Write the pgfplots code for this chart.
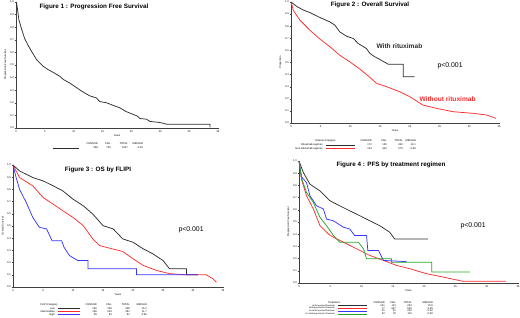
\documentclass[border=0pt]{standalone}
\usepackage{pgfplots}
\pgfplotsset{compat=1.18}
\usepackage{fontspec}
\setmainfont{Liberation Sans}
\definecolor{kmred}{RGB}{255,45,45}
\definecolor{kmblue}{RGB}{55,55,255}
\definecolor{kmgreen}{RGB}{40,165,40}
\definecolor{kmblack}{RGB}{45,45,45}
\newcommand{\tf}{\fontsize{2.6}{3}\selectfont}
\newcommand{\smf}{\fontsize{2.1}{2.5}\selectfont}
\newcommand{\ttl}{\bfseries\fontsize{6.3}{7}\selectfont}
\newcommand{\anf}{\bfseries\fontsize{6.6}{7.5}\selectfont}
\newcommand{\pf}{\fontsize{6.9}{8}\selectfont}
\pgfplotsset{km/.style={
  scale only axis, axis lines=left, axis line style={-, line width=0.5pt, black!75},
  xmin=0,xmax=35,ymin=0,ymax=1, enlargelimits=false, clip=false,
  xtick={0,5,...,35}, ytick={0,0.1,...,1.0},
  minor x tick num=4,
  tick align=outside, major tick length=1.3pt, minor tick length=0.8pt,
  tick style={line width=0.3pt, black!75},
  every tick label/.append style={font=\tf, inner sep=0.8pt},
  yticklabel style={/pgf/number format/.cd, fixed, fixed zerofill, precision=1, assume math mode=true},
  xticklabel style={/pgf/number format/assume math mode=true},
  xlabel={Years}, label style={font=\tf},
  xlabel style={yshift=2pt}, ylabel style={yshift=-1pt},
  every axis plot/.append style={line width=0.75pt, no marks},
}}
\begin{document}
\begin{tikzpicture}[x=1pt,y=1pt]
\useasboundingbox (0,0) rectangle (520,318);
% ---------------- Figure 1
\begin{axis}[km, at={(16pt,190pt)}, anchor=south west, width=202pt, height=126pt,
  minor x tick num=0, ylabel={Progression Free Survival}]
\addplot[kmblack] coordinates {(0,1.0)(0.15,0.98)(0.5,0.86)(1,0.78)(1.5,0.71)(2.1,0.656)(2.8,0.6)(3.6,0.54)(4.7,0.49)(5.5,0.465)(6.5,0.44)(7.6,0.41)(8.2,0.385)(9.3,0.357)(10.5,0.32)(11.6,0.286)(12.8,0.255)(13.95,0.238)(14.5,0.21)(15.7,0.2)(16.8,0.18)(18,0.16)(19.1,0.13)(20.3,0.108)(21,0.095)(21.5,0.075)(22.6,0.07)(23.2,0.052)(24.9,0.044)(26.1,0.03)(33.6,0.03)(33.6,0.005)};
\end{axis}
% ---------------- Figure 2
\begin{axis}[km, at={(291pt,195pt)}, anchor=south west, width=208pt, height=121pt,
  ylabel={Proportion}]
\addplot[kmblack] coordinates {(0,1)(0.95,0.964)(2,0.935)(3.2,0.912)(4.9,0.871)(6.55,0.835)(7.4,0.808)(8.2,0.753)(9.35,0.717)(10.5,0.698)(11.3,0.657)(12.7,0.615)(13.3,0.574)(14.1,0.547)(14.95,0.525)(16.35,0.486)(18.9,0.486)(18.9,0.382)(20.8,0.382)};
\addplot[kmred] coordinates {(0,1)(0.4,0.93)(1.5,0.85)(3.2,0.766)(4.9,0.692)(6.55,0.63)(8.2,0.56)(9.9,0.505)(11.6,0.445)(13.3,0.376)(14.4,0.327)(16.1,0.3)(18.3,0.258)(20,0.217)(22.2,0.148)(24.5,0.121)(27.3,0.093)(30.6,0.08)(32.9,0.066)(34.5,0.038)};
\end{axis}
% ---------------- Figure 3
\begin{axis}[km, at={(13pt,31pt)}, anchor=south west, width=210pt, height=122pt,
  ylabel={Overall Survival}]
\addplot[kmblack] coordinates {(0,1)(1.1,0.951)(3.3,0.897)(5,0.87)(6.7,0.829)(8.3,0.788)(10,0.72)(11.7,0.666)(13.3,0.598)(15,0.503)(16.7,0.476)(18.3,0.394)(20,0.367)(21.7,0.313)(23.3,0.272)(25,0.217)(26.1,0.149)(28.9,0.149)(28.9,0.1)(30.8,0.1)};
\addplot[kmred] coordinates {(0,1)(1.1,0.897)(3.3,0.829)(5,0.734)(6.7,0.679)(8.3,0.625)(10,0.57)(11.7,0.503)(13.3,0.394)(14.4,0.34)(16.1,0.318)(18.3,0.291)(20,0.231)(21.7,0.177)(23.9,0.136)(26.1,0.109)(28.9,0.1)(32.2,0.1)(33.3,0.068)(33.9,0.04)};
\addplot[kmblue] coordinates {(0,1)(0.5,0.9)(1.1,0.8)(2.2,0.693)(3.3,0.57)(4.4,0.489)(5.6,0.476)(6.5,0.38)(8.1,0.38)(8.5,0.326)(9.4,0.258)(10.8,0.217)(12.5,0.217)(12.5,0.149)(20.6,0.149)(20.6,0.1)(30.8,0.1)};
\end{axis}
% ---------------- Figure 4
\begin{axis}[km, at={(299pt,35pt)}, anchor=south west, width=219pt, height=122pt,
  ylabel={Progression Free Survival}]
\addplot[kmblack] coordinates {(0,1)(0.7,0.905)(1.75,0.81)(3.35,0.755)(4.95,0.674)(6.5,0.633)(8.1,0.592)(9.7,0.552)(11.3,0.51)(12.9,0.47)(14.5,0.416)(15.3,0.36)(20.6,0.36)};
\addplot[kmred] coordinates {(0,1)(0.4,0.85)(1.2,0.715)(2.3,0.606)(3.35,0.47)(4.95,0.39)(7.1,0.334)(9.2,0.28)(11.3,0.226)(13.5,0.185)(15.6,0.144)(17.7,0.117)(20.4,0.076)(23,0.049)(26.2,0.014)(33.1,0.014)};
\addplot[kmblue] coordinates {(0,1)(0.4,0.87)(1.2,0.823)(1.75,0.715)(2.8,0.633)(3.9,0.606)(4.4,0.524)(5.5,0.51)(7.1,0.457)(8.1,0.443)(8.9,0.389)(10.8,0.389)(11,0.266)(12.7,0.266)(13.5,0.185)(17.2,0.175)};
\addplot[kmgreen] coordinates {(0,1)(0.4,0.86)(1.2,0.742)(2.3,0.66)(3.35,0.538)(4.4,0.47)(5.5,0.39)(6.5,0.334)(9.5,0.334)(10.3,0.28)(10.8,0.198)(14.8,0.198)(14.8,0.171)(21.2,0.171)(21.2,0.09)(27.3,0.09)};
\end{axis}
% ---------------- titles and annotations
\node[font=\ttl] at (94,311) {Figure 1 : Progression Free Survival};
\node[font=\ttl] at (370,313) {Figure 2 : Overall Survival};
\node[font=\ttl] at (98,148) {Figure 3 : OS by FLIPI};
\node[font=\ttl] at (391,153) {Figure 4 : PFS by treatment regimen};
\node[font=\anf, anchor=west, text=kmblack] at (373,272) {With rituximab};
\node[font=\anf, anchor=west, text=kmred] at (416,219) {Without rituximab};
\node[font=\pf, anchor=west] at (434,252) {p<0.001};
\node[font=\pf, anchor=west] at (175,88) {p<0.001};
\node[font=\pf, anchor=west] at (457,92) {p<0.001};
% ---------------- legend tables
\begin{scope}[every node/.style={font=\tf, inner sep=0pt}]
% Figure 1
\draw[kmblack, line width=0.5pt] (53,170) -- (79,170);
\node[anchor=east] at (98,174) {CENSOR};
\node[anchor=east] at (111,174) {FAIL};
\node[anchor=east] at (128,174) {TOTAL};
\node[anchor=east] at (143,174) {MEDIAN};
\node[anchor=east] at (98,170) {308};
\node[anchor=east] at (111,170) {729};
\node[anchor=east] at (128,170) {1037};
\node[anchor=east] at (143,170) {4.59};
% Figure 2
\node[anchor=east] at (336,177) {Rituxan Category};
\draw[kmblack, line width=0.5pt] (326,173) -- (355,173);
\draw[kmred, line width=0.5pt] (326,169.5) -- (355,169.5);
\node[anchor=east] at (323,173) {Rituximab regimen};
\node[anchor=east] at (323,169.5) {Non-Rituximab regimen};
\node[anchor=east] at (372,177) {CENSOR};
\node[anchor=east] at (387,177) {FAIL};
\node[anchor=east] at (403,177) {TOTAL};
\node[anchor=east] at (416,177) {MEDIAN};
\node[anchor=east] at (372,173) {172};
\node[anchor=east] at (387,173) {130};
\node[anchor=east] at (403,173) {302};
\node[anchor=east] at (416,173) {16.1};
\node[anchor=east] at (372,169.5) {133};
\node[anchor=east] at (387,169.5) {442};
\node[anchor=east] at (403,169.5) {575};
\node[anchor=east] at (416,169.5) {9.99};
% Figure 3
\node[anchor=east] at (58,13) {FLIPI Category};
\draw[kmblack, line width=0.5pt] (58,9.5) -- (80,9.5);
\draw[kmred, line width=0.5pt] (58,6.5) -- (80,6.5);
\draw[kmblue, line width=0.5pt] (58,3.5) -- (80,3.5);
\node[anchor=east] at (55,9.5) {Low};
\node[anchor=east] at (55,6.5) {Intermediate};
\node[anchor=east] at (55,3.5) {High};
\node[anchor=east] at (97,13) {CENSOR};
\node[anchor=east] at (112,13) {FAIL};
\node[anchor=east] at (130,13) {TOTAL};
\node[anchor=east] at (147,13) {MEDIAN};
\node[anchor=east] at (97,9.5) {190};
\node[anchor=east] at (112,9.5) {158};
\node[anchor=east] at (130,9.5) {348};
\node[anchor=east] at (147,9.5) {15.1};
\node[anchor=east] at (97,6.5) {168};
\node[anchor=east] at (112,6.5) {223};
\node[anchor=east] at (130,6.5) {391};
\node[anchor=east] at (147,6.5) {11.7};
\node[anchor=east] at (97,3.5) {28};
\node[anchor=east] at (112,3.5) {63};
\node[anchor=east] at (130,3.5) {91};
\node[anchor=east] at (147,3.5) {4.66};
% Figure 4
\node[anchor=east] at (340,15.5) {Treatment};
\draw[kmblack, line width=0.5pt] (338,12.5) -- (367,12.5);
\draw[kmred, line width=0.5pt] (338,9.7) -- (367,9.7);
\draw[kmblue, line width=0.5pt] (338,6.9) -- (367,6.9);
\draw[kmgreen, line width=0.5pt] (338,4.1) -- (367,4.1);
\node[anchor=east, font=\smf] at (335,12.5) {Anthracycline/Rituximab};
\node[anchor=east, font=\smf] at (335,9.7) {Anthracycline/No Rituximab};
\node[anchor=east, font=\smf] at (335,6.9) {No Anthracycline/Rituximab};
\node[anchor=east, font=\smf] at (335,4.1) {No Anthracycline/No Rituximab};
\node[anchor=east] at (385,15.5) {CENSOR};
\node[anchor=east] at (396,15.5) {FAIL};
\node[anchor=east] at (412,15.5) {TOTAL};
\node[anchor=east] at (433,15.5) {MEDIAN};
\node[anchor=east] at (385,12.5) {141};
\node[anchor=east] at (396,12.5) {113};
\node[anchor=east] at (412,12.5) {254};
\node[anchor=east] at (433,12.5) {10.6};
\node[anchor=east] at (385,9.7) {77};
\node[anchor=east] at (396,9.7) {427};
\node[anchor=east] at (412,9.7) {504};
\node[anchor=east] at (433,9.7) {3.05};
\node[anchor=east] at (385,6.9) {51};
\node[anchor=east] at (396,6.9) {51};
\node[anchor=east] at (412,6.9) {102};
\node[anchor=east] at (433,6.9) {5.22};
\node[anchor=east] at (385,4.1) {32};
\node[anchor=east] at (396,4.1) {78};
\node[anchor=east] at (412,4.1) {110};
\node[anchor=east] at (433,4.1) {5.09};
\end{scope}
\end{tikzpicture}
\end{document}
